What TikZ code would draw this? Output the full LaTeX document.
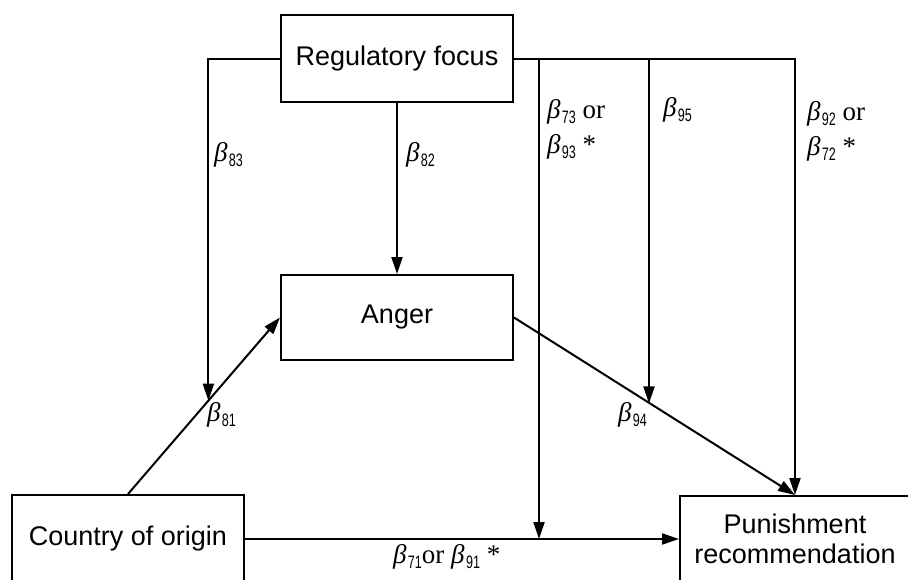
\documentclass[tikz,border=0pt]{standalone}
\usepackage{graphicx}
\usepackage{fontspec}
\setmainfont{Liberation Sans}
\newfontfamily\tnr{Liberation Serif}
\newfontfamily\subfnt{Liberation Sans}
\usetikzlibrary{arrows.meta,calc}
\newcommand\bsym[1]{{\itshape β}\kern1.5pt\raisebox{-5pt}{\subfnt\fontsize{18}{18}\selectfont\scalebox{0.7}[1]{#1}}}
\begin{document}
\begin{tikzpicture}[x=1pt,y=-1pt,line width=2pt,
  >={Triangle[length=17pt,width=11pt]},
  box/.style={draw,line width=2pt,inner sep=0pt,font=\fontsize{27}{30}\selectfont},
  lbl/.style={anchor=base west,inner sep=0pt,font=\tnr\fontsize{27}{32}\selectfont}]
\useasboundingbox (0,0) rectangle (908,579);
\clip (0,0) rectangle (908,579);
% boxes
\node[box,minimum width=232pt,minimum height=87pt] (rf) at (397,58.5) {Regulatory focus};
\node[box,minimum width=232pt,minimum height=85pt] (anger) at (397,317.5) {Anger};
\node[box,minimum width=232pt,minimum height=88pt] (coo) at (128,539) {Country of origin};
\node[box,minimum width=230pt,minimum height=86pt,align=center] (pun) at (795,539) {Punishment\\recommendation};
% helper points
\coordinate (m1) at ($(coo.north)!0.529!(anger.west)$);
\coordinate (m2) at ($(anger.east)!0.484!(pun.north)$);
\coordinate (j1) at (539,58.5);
\coordinate (j2) at (649,58.5);
\coordinate (m3) at (j1 |- coo.east);
% connectors
\draw[->] (coo.north) -- (anger.west);
\draw[->] (anger.east) -- (pun.north);
\draw[->] (coo.east) -- (pun.west);
\draw[->] (rf.south) -- (anger.north);
\draw[->] (rf.west) -| (m1);
\draw[->] (rf.east) -| (pun.north);
\draw[->] (j1) -- (m3);
\draw[->] (j2) -- (j2 |- m2);
% labels
\node[lbl] (b83) at (213,161) {\bsym{83}};
\node[lbl] (b82) at (405,161) {\bsym{82}};
\node[lbl] (b73) at (546,118) {\bsym{73} or};
\node[lbl] (b93) at (546,153) {\bsym{93} *};
\node[lbl] (b95) at (662,116) {\bsym{95}};
\node[lbl] (b92) at (806,120) {\bsym{92} or};
\node[lbl] (b72) at (806,155) {\bsym{72} *};
\node[lbl] (b81) at (206,421) {\bsym{81}};
\node[lbl] (b94) at (617,421) {\bsym{94}};
\node[lbl] (b71) at (392,563) {\bsym{71}or \bsym{91} *};
\end{tikzpicture}
\end{document}
